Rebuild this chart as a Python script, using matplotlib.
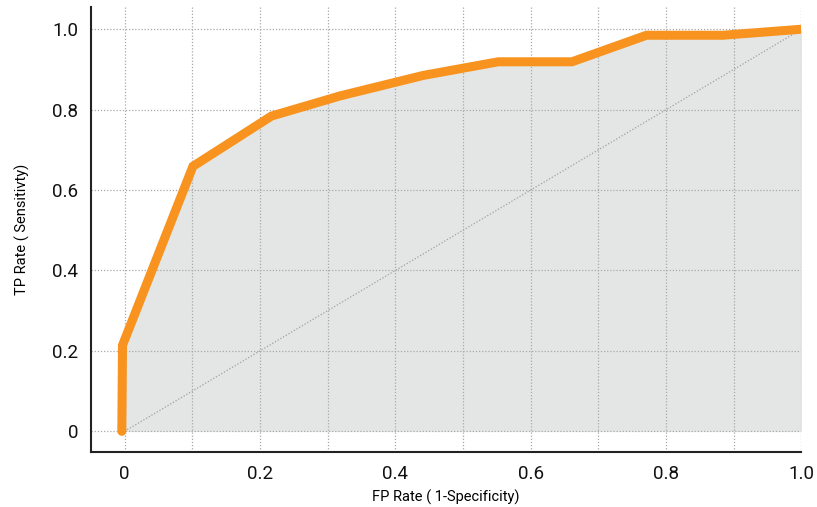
import matplotlib.pyplot as plt

plt.rcParams['font.family'] = ['Roboto', 'DejaVu Sans']

# ROC curve points
fp_rate = [-0.004, -0.003, 0.101, 0.217, 0.318, 0.441, 0.552, 0.661, 0.771, 0.884, 1.0]
tp_rate = [0.0, 0.214, 0.659, 0.784, 0.834, 0.885, 0.919, 0.919, 0.985, 0.985, 1.0]

tick_vals = [0, 0.2, 0.4, 0.6, 0.8, 1.0]
tick_labels = ['0', '0.2', '0.4', '0.6', '0.8', '1.0']
minor_x = [0.1, 0.3, 0.5, 0.7, 0.9]

fig = plt.figure(figsize=(8.17, 5.07), dpi=100)
ax = fig.add_axes([0.111, 0.108, 0.870, 0.878])

# shaded area under the curve
ax.fill_between(fp_rate, tp_rate, 0, color='#e4e6e5', lw=0, zorder=1)

# grid: vertical every 0.1, horizontal every 0.2 (stops at y=0 / x=0..1)
grid_kw = dict(color='#a8a8a8', lw=0.9, ls=(0, (1, 1.5)), zorder=2)
for x in tick_vals + minor_x:
    ax.axvline(x, **grid_kw)
for y in tick_vals:
    ax.plot([-0.05, 1.0], [y, y], **grid_kw)

# chance diagonal
ax.plot([0, 1], [0, 1], color='#a0a0a0', lw=0.9, ls=(0, (1, 1.5)), zorder=3)

# ROC curve
ax.plot(fp_rate, tp_rate, color='#f7931e', lw=6.5, solid_capstyle='round',
        solid_joinstyle='miter', zorder=4)

ax.set_xlim(-0.05, 1.0)
ax.set_ylim(-0.052, 1.055)
ax.set_xticks(tick_vals)
ax.set_xticklabels(tick_labels)
ax.set_yticks(tick_vals)
ax.set_yticklabels(tick_labels)
ax.tick_params(length=0, labelsize=13.5, pad=9, labelcolor='#111111')
ax.spines['top'].set_visible(False)
ax.spines['right'].set_visible(False)
for s in ['left', 'bottom']:
    ax.spines[s].set_linewidth(1.5)
    ax.spines[s].set_color('#222222')

ax.set_xlabel('FP Rate ( 1-Specificity)', fontsize=10.5, labelpad=5)
ax.set_ylabel('TP Rate ( Sensitivty)', fontsize=10.5, labelpad=16)

fig.savefig('out.png', dpi=100)
